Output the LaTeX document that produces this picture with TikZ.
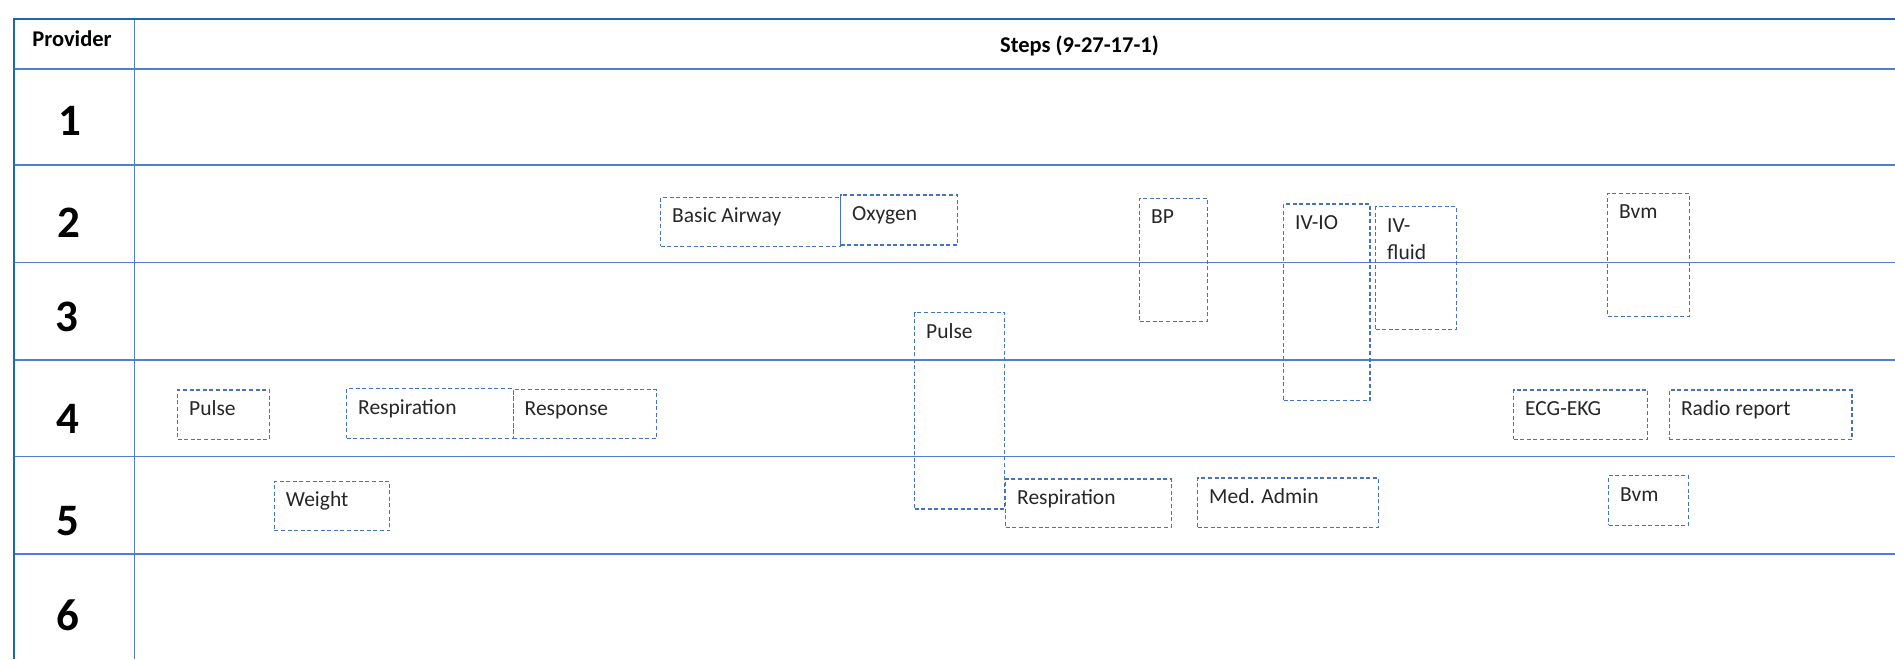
\documentclass[tikz,border=0pt]{standalone}
\usepackage{fontspec}
\setmainfont{Carlito}
\usepackage{tikz}
\usetikzlibrary{calc,positioning}
\definecolor{framedark}{RGB}{30,104,176}
\definecolor{gridblue}{RGB}{82,126,210}
\definecolor{boxblue}{RGB}{68,114,196}
\definecolor{textgray}{RGB}{38,38,38}
\tikzset{
  gridline/.style={draw=gridblue, line width=1.5pt},
  frameline/.style={draw=framedark, line width=2pt},
  rowlabel/.style={anchor=base, inner sep=0pt, font=\fontsize{45}{50}\selectfont\bfseries},
  headlabel/.style={anchor=base, inner sep=0pt, font=\fontsize{22.5}{26}\selectfont\bfseries},
}

\begin{document}
\begin{tikzpicture}[x=1pt, y=-1pt]
    \tikzset{
        stepbox/.style={rectangle, draw=boxblue, line width=1.3pt, dash pattern=on 4pt off 2.6pt, anchor=north west, inner sep=0pt},
        steplabel/.style={anchor=base west, inner sep=0pt, xshift=12pt, yshift=-26pt, text=textgray, align=left, font=\fontsize{21.5}{27}\selectfont},
    }
    \useasboundingbox (0,0) rectangle (1895,659);

    % table grid
    \path[gridline] (14,69) -- (1895,69);
    \path[gridline] (14,165) -- (1895,165);
    \path[gridline] (14,262.5) -- (1895,262.5);
    \path[gridline] (14,360) -- (1895,360);
    \path[gridline] (14,456.7) -- (1895,456.7);
    \path[gridline] (14,554) -- (1895,554);
    \path[gridline] (134.3,19) -- (134.3,659);
    \path[frameline] (14.3,659) -- (14.3,19.3) -- (1895,19.3);

    % header
    \node[headlabel] (provhead) at (72,46.7) {Provider};
    \node[headlabel] (stepshead) at (1079.5,52.7) {Steps (9-27-17-1)};

    % provider numbers
    \node[rowlabel] (prov1) at (70,135) {1};
    \node[rowlabel] (prov2) at (69,237) {2};
    \node[rowlabel] (prov3) at (67,331) {3};
    \node[rowlabel] (prov4) at (68,433) {4};
    \node[rowlabel] (prov5) at (68,535) {5};
    \node[rowlabel] (prov6) at (68,630) {6};

    % row 2 / 3
    \node[stepbox, minimum width=180pt, minimum height=49pt] (airway) at (660,196.7) {};
      \node[steplabel] (airwaytxt) at (airway.north west) {Basic Airway};
    \node[stepbox, minimum width=117pt, minimum height=50pt] (oxygen) at (840,194.3) {};
      \node[steplabel] (oxygentxt) at (oxygen.north west) {Oxygen};
    \node[stepbox, minimum width=67.7pt, minimum height=123pt] (bp) at (1139,197.7) {};
      \node[steplabel] (bptxt) at (bp.north west) {BP};
    \node[stepbox, minimum width=86.3pt, minimum height=196.7pt] (ivio) at (1283,203.3) {};
      \node[steplabel] (iviotxt) at (ivio.north west) {IV-IO};
    \node[stepbox, minimum width=80.7pt, minimum height=123pt] (ivfluid) at (1375,206) {};
      \node[steplabel, yshift=-27pt] (ivfluidtxt) at (ivfluid.north west) {IV-\\fluid};
    \node[stepbox, minimum width=81.5pt, minimum height=123pt] (bvmtop) at (1607,192.7) {};
      \node[steplabel] (bvmtoptxt) at (bvmtop.north west) {Bvm};
    \node[stepbox, minimum width=90pt, minimum height=196.3pt] (pulsemid) at (914,312) {};
      \node[steplabel] (pulsemidtxt) at (pulsemid.north west) {Pulse};

    % row 4
    \node[stepbox, minimum width=92pt, minimum height=49.7pt] (pulse) at (177,389.3) {};
      \node[steplabel] (pulsetxt) at (pulse.north west) {Pulse};
    \node[stepbox, minimum width=166.5pt, minimum height=49.7pt] (resp) at (346,388) {};
      \node[steplabel] (resptxt) at (resp.north west) {Respiration};
    \node[stepbox, minimum width=143.5pt, minimum height=48.7pt] (response) at (512.5,389) {};
      \node[steplabel] (responsetxt) at (response.north west) {Response};
    \node[stepbox, minimum width=134pt, minimum height=49.4pt] (ecg) at (1513,389.3) {};
      \node[steplabel] (ecgtxt) at (ecg.north west) {ECG-EKG};
    \node[stepbox, minimum width=182.6pt, minimum height=49.4pt] (radio) at (1668.8,389.3) {};
      \node[steplabel] (radiotxt) at (radio.north west) {Radio report};

    % row 5
    \node[stepbox, minimum width=115.3pt, minimum height=49.3pt] (weight) at (273.7,480.7) {};
      \node[steplabel] (weighttxt) at (weight.north west) {Weight};
    \node[stepbox, minimum width=165.5pt, minimum height=48.4pt] (resplow) at (1005,478.3) {};
      \node[steplabel] (resplowtxt) at (resplow.north west) {Respiration};
    \node[stepbox, minimum width=180.5pt, minimum height=49.4pt] (medadmin) at (1197,477.3) {};
      \node[steplabel] (medadmintxt) at (medadmin.north west) {Med. Admin};
    \node[stepbox, minimum width=79.5pt, minimum height=49.7pt] (bvmlow) at (1608,475) {};
      \node[steplabel] (bvmlowtxt) at (bvmlow.north west) {Bvm};

\end{tikzpicture}
\end{document}
